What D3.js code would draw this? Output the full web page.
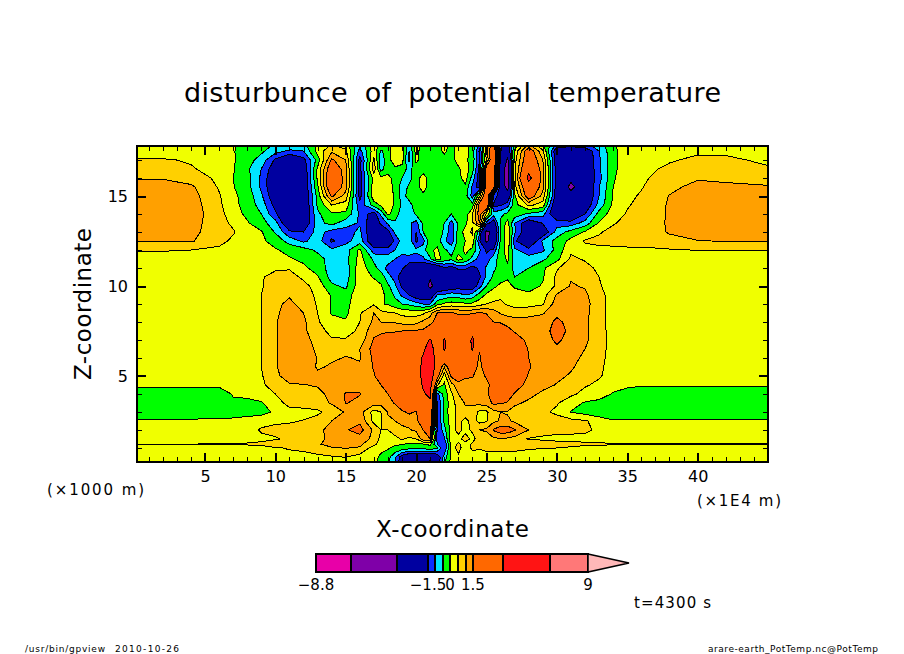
<!DOCTYPE html>
<html>
<head>
<meta charset="utf-8">
<script src="https://cdn.jsdelivr.net/npm/d3@7"></script>
<style>
  body { margin: 0; background: #fff; }
  text { font-family: "DejaVu Sans", sans-serif; fill: #000; }
</style>
</head>
<body>
<svg id="chart" width="904" height="654"></svg>
<script>
// grid coordinates (x in 1E4 m, z in 1000 m), denser around the centre
const xCoords = [0.17,2,4,6,7,8,9,10,11,12,13,14,15,16,
  17,17.5,18,18.5,19,19.5,20,20.5,21,21.5,22,22.5,23,23.5,24,24.5,25,25.5,26,26.5,
  27,28,29,30,31,32,33,34,35,36,38,40,42,45];
const zCoords = [17.78,17.5,17,16.5,16,15.5,15,14.5,14,13.5,13,12.5,12,11.5,11,10.5,10,9.5,9,8.5,8,7.5,7,6.5,6,5.5,5,4.5,4,3.5,3,2.5,2,1.5,1.2,1,0.5,0.22];

// potential temperature disturbance, one row per zCoords entry
const potTemp = [
  [.2,.2,.2,.2,.05,-.2,-.3,-.6,-.7,-.7,.1,.6,.3,-.9, .3,-.2,-.1,.3,.2,-.8,.2,-.2,-.2,-.2,.2,-.2,.3,.2,-.2,-1.2,.8,2,-1.4,-1.8, -.3,1.2,.1,-1.2,-1.4,-1.2,-.8,-.05,.2,.25,.3,.4,.45,.45],
  [.2,.2,.2,.2,.03,-.2,-.4,-.8,-1.1,-1,.2,.9,.6,-1.2, .3,-.6,-.2,.3,.2,-1,.2,-.3,-.2,-.2,.1,-.2,.3,.2,-.2,-1.6,1,2.4,-1.6,-2.2, .1,2,.6,-2.1,-2.2,-2,-1,-.1,.2,.3,.4,.42,.42,.38],
  [.55,.55,.45,.25,.05,-.3,-.7,-1.6,-2.2,-1.7,-.3,1.6,1,-1.7, .6,-.8,-.2,.3,.2,-1.1,.1,-.2,-.2,-.2,-.2,-.2,.2,.1,-.2,-1.5,.5,2.4,-1.7,-3.2, .3,2.2,1,-1.9,-2.4,-2.2,-1.1,-.1,.2,.3,.45,.6,.58,.42],
  [.6,.65,.55,.3,.05,-.4,-1,-1.9,-2.3,-2,.1,2.1,1.2,-1.7, .8,-.7,-.2,-.1,-.2,-.7,-.2,-.2,-.2,-.2,-.2,-.2,-.1,.3,-.3,-1.7,2,2.4,-2,-3.8, .4,2.6,1.2,-1.9,-2.4,-2.2,-1.1,-.1,.25,.35,.6,.75,.72,.55],
  [.95,.95,.75,.4,0,-.3,-1.1,-2.1,-2.4,-2.1,.1,2.4,1.2,-1.7, .2,.1,.15,-.2,-.5,-.7,-.2,.2,-.2,-.2,-.2,-.2,-.15,.2,-.7,-1.8,2.2,2.3,-2,-3.8, .4,3.4,1.2,-1.9,-2.7,-2.2,-1.2,-.05,.25,.42,.72,.95,.9,.78],
  [1.3,1.3,1.1,.45,.03,-.3,-1.1,-2.1,-2.4,-2.1,-.1,2.3,1.2,-1.7, .3,.25,.2,-.1,-.8,-.4,-.2,.2,-.2,-.2,-.2,-.2,-.2,-.1,-1.1,-1.8,2.2,1.8,-2.1,-3.5, .3,2.4,1.2,-1.9,-3.3,-2.2,-1,0,.3,.47,.88,1.15,1.1,1.05],
  [1.4,1.4,1.2,.55,.1,-.2,-.9,-2,-2.4,-2.2,-.3,1.6,.8,-1.7, .4,.3,.3,-.1,-.7,-.3,-.2,-.1,-.2,-.2,-.2,-.2,-.2,-.3,-1.2,.4,2.2,-1,-2,-2.2, -.1,2,.8,-1.9,-2.5,-2.2,-1,.05,.4,.55,1.02,1.25,1.25,1.2],
  [1.4,1.4,1.25,.6,.15,-.2,-.7,-1.7,-2.4,-2.2,-.4,.5,.3,-1.3, -.3,.1,.3,-.1,-.6,-.7,-.2,-.2,-.2,-.2,-.2,-.2,-.2,-.4,-.3,1.8,2.4,-1.6,-1.6,-1.2, -.2,.6,.3,-2.3,-2.4,-2,-.8,.1,.45,.65,1.05,1.3,1.3,1.3],
  [1.4,1.4,1.25,.7,.2,-.1,-.5,-1.4,-2.3,-2.2,-.6,-.1,-.1,-1.1, -1.8,-.9,.1,-.2,-.8,-.9,-.4,-.2,-.2,-.2,-.3,-.5,-.3,-.3,.5,1.8,.4,-.8,-.6,-.4, -.2,-.6,-.8,-2.2,-2.3,-1.5,-.3,.25,.55,.7,1.05,1.3,1.3,1.3],
  [1.3,1.3,1.2,.7,.4,.05,-.3,-.8,-2.2,-2.1,-.7,-.3,-.8,-1.05, -2,-1.4,-.9,-.6,-.7,-.9,-1.2,-.4,-.1,-.2,-.5,-1.2,-.4,-.1,.4,1.5,-1.2,-1.9,-.4,.2, -1,-2,-1.45,-1.2,-1.3,-.8,.05,.45,.65,.75,1.05,1.3,1.3,1.3],
  [1.3,1.3,1.1,.8,.55,.2,.05,-.55,-1.4,-1.5,-.8,-1.2,-1.2,-.9, -2.1,-2,-1.7,-.9,-.7,-.8,-1.5,-.5,-.1,-.15,-.6,-1.3,-.3,.2,.6,-.9,-3.3,-2.6,-.4,.35, -.9,-2.1,-2,-.8,-.3,.05,.45,.65,.75,.8,1.03,1.25,1.25,1.25],
  [1.05,1.05,1.05,.65,.4,.15,.1,-.2,-.7,-1.1,-.75,-1.6,-1.15,-.75, -2.1,-2.2,-2.1,-1.4,-.8,-.7,-1.6,-1.2,-.2,-.2,-.9,-1.3,-.3,0,.3,-1.4,-3.2,-2.3,-.4,.4, -1.4,-2.3,-.9,-.3,.15,.55,.6,.7,.8,.8,.9,.98,1.02,1.01],
  [.55,.55,.5,.4,.25,.15,.1,.05,-.15,-.3,-.6,-.9,-.7,.1, -1.3,-1.3,-1.3,-1,-.7,-.7,-.9,-.7,-.1,.1,-.4,-.7,-.2,.1,-.1,-.9,-1.6,-1.4,-.2,.2, -.9,-1.3,-1.1,-.3,.4,.35,.4,.35,.35,.35,.45,.52,.52,.52],
  [.2,.2,.2,.2,.2,.2,.15,.1,.05,-.1,-.3,-.7,-.7,.2, -.6,-.7,-.7,-1,-1.3,-1.2,-1.2,-1.1,-.6,.2,-.2,-.4,.2,-.1,-.7,-1.2,-1.3,-.7,-.3,.1, -.7,-.8,-.6,-.15,.6,.45,.3,.25,.2,.2,.2,.2,.2,.2],
  [.2,.2,.2,.2,.2,.2,.3,.4,.45,.1,-.2,-.75,-.75,.3, -.35,-.7,-1.2,-1.3,-1.4,-1.9,-2.1,-2.1,-2.3,-2.2,-1.6,-1.7,-1.4,-1.4,-1.7,-1.4,-.9,-.6,-.3,-.15, -.7,-.5,-.1,.45,.75,.65,.4,.25,.2,.2,.2,.2,.2,.2],
  [.2,.2,.2,.2,.2,.25,.45,.7,.7,.4,.05,-.7,-.75,.3, -.05,-.2,-.8,-1.2,-1.9,-2.2,-2.2,-2.5,-2.9,-2.4,-2.2,-2.2,-2,-2.2,-2.2,-1.6,-.9,-.4,-.2,-.1, -.5,-.3,-.05,.6,.95,.85,.5,.25,.2,.2,.2,.2,.2,.2],
  [.2,.2,.2,.2,.2,.3,.45,.75,.9,.65,.3,-.4,-.6,.3, .25,.05,-.4,-.9,-1.6,-2,-2.1,-2.3,-3.3,-2.4,-2.1,-2,-1.8,-1.9,-1.9,-1.2,-.5,-.1,.1,.2, -.1,-.2,.05,.6,1.05,.95,.55,.25,.2,.2,.2,.2,.2,.2],
  [.2,.2,.2,.2,.2,.2,.5,.85,.95,.75,.4,-.05,-.3,.4, .4,.1,-.1,-.6,-1.1,-1.5,-1.9,-2.1,-2.1,-1,-.9,-.7,-.8,-1,-.8,-.3,.1,.25,.4,.45, .3,.1,.3,1.05,1.25,1.1,.65,.3,.2,.2,.2,.2,.2,.2],
  [.2,.2,.2,.2,.2,.25,.5,.9,1.1,.85,.45,-.05,-.2,.45, .45,.05,-.05,-.3,-.5,-.6,-.8,-1,-1,-.2,.1,.2,.2,.1,.1,.3,.5,.6,.6,.45, .35,.35,.45,1.25,1.3,1.2,.65,.3,.2,.2,.2,.2,.2,.2],
  [.2,.2,.2,.2,.2,.25,.5,.9,1.25,1,.5,-.05,-.1,.45, 1,.65,.55,.5,.35,.3,.3,.4,.8,1.5,1.6,1.55,1.4,1.4,1.45,1.55,1.45,1.25,.95,.8, .75,.8,.95,1.4,1.3,1.15,.65,.3,.2,.2,.2,.2,.2,.2],
  [.2,.2,.2,.2,.2,.25,.5,.95,1.3,1.1,.55,.2,.05,.5, 1.1,1,.95,.95,.85,.8,.85,1.1,1.3,1.8,2.1,2.1,2,2,2,2.1,1.9,1.5,1.45,1.35, 1.25,1.25,1.25,1.6,1.35,1.1,.65,.3,.2,.2,.2,.2,.2,.2],
  [.2,.2,.2,.2,.2,.25,.5,.95,1.3,1.1,.7,.35,.3,.6, 1.35,1.4,1.45,1.45,1.5,1.5,1.55,1.6,2,2.2,2.3,2.3,2.3,2.3,2.6,2.3,2.2,2.1,1.9,1.65, 1.45,1.3,1.25,1.75,1.35,1.1,.7,.3,.2,.2,.2,.2,.2,.2],
  [.2,.2,.2,.2,.2,.25,.5,.95,1.3,1.2,.8,.55,.55,.7, 1.55,1.7,1.8,1.9,2,2,2.1,2.6,3.1,2.2,3.1,2.2,2.2,2.3,3.2,2.2,2.2,2.2,2.2,2.2, 1.8,1.35,1.25,1.6,1.3,1.1,.7,.3,.2,.2,.2,.2,.2,.2],
  [.2,.2,.2,.2,.2,.25,.5,.95,1.3,1.25,.9,.8,.9,1, 1.7,2,2.2,2.3,2.3,2.3,2.5,2.8,3.6,2.3,3.1,2.3,2.2,2.4,3.1,1.55,2.2,2.2,2.2,2.2, 2.2,1.45,1.3,1.4,1.3,1,.7,.3,.2,.2,.2,.2,.2,.2],
  [.2,.2,.2,.2,.2,.25,.5,.95,1.3,1.3,.98,.95,1.02,.97, 1.6,2,2.2,2.3,2.3,2.3,2.6,3.1,4,2.3,2.3,2.3,2.3,2.3,2.2,1.4,2.1,2.3,2.3,2.3, 2.2,1.5,1.3,1.35,1.15,.9,.65,.3,.2,.2,.2,.2,.2,.2],
  [.2,.2,.2,.2,.2,.25,.5,.95,1.3,1.3,.95,1.05,1.25,1.05, 1.55,2,2.2,2.3,2.3,2.3,2.6,3.2,4,2.4,1,2.1,2.2,2.2,1.9,1.3,1.9,2.3,2.3,2.3, 2.1,1.55,1.25,1.2,1.05,.85,.6,.3,.2,.2,.2,.2,.2,.2],
  [.2,.2,.2,.2,.2,.25,.45,.9,1.2,1.3,1.1,1.3,1.4,1.4, 1.45,1.8,2.1,2.3,2.3,2.3,2.6,3.2,3.8,1.8,.2,1.6,1.9,1.6,1.55,1.2,1.6,2.2,2.3,2.3, 2,1.45,1.2,1.1,.95,.75,.55,.3,.2,.2,.2,.2,.2,.2],
  [.1,.1,.1,.1,.1,.15,.4,.75,.95,.98,1.05,1.2,1.35,1.4, 1.3,1.5,1.8,2.1,2.3,2.3,2.5,3.1,3.4,.6,-.1,.8,1.3,1.2,1.3,1.1,1.3,1.8,2,2, 1.8,1.3,1.15,.97,.85,.55,.4,.2,.1,.05,.05,.05,.05,.05],
  [-.3,-.3,-.3,-.3,.05,.1,.25,.5,.75,.8,.85,1.15,1.53,1.52, 1.25,1.35,1.5,1.9,2.1,2.2,2.3,2.9,3.2,-1.2,-.3,.4,1,1.15,1.25,1.15,1.4,1.8,1.9,1.8, 1.45,1.15,.9,.8,.6,.35,.25,-.05,-.2,-.3,-.3,-.3,-.3,-.3],
  [-.4,-.4,-.4,-.2,-.1,-.1,-.05,.3,.65,.7,.8,1.05,1.52,1.4, 1.2,1.2,1.3,1.55,2,2.1,2.1,2.6,2.8,-1.6,-.4,.3,.7,1.05,1.1,1.15,1.25,1.6,1.55,1.45, 1.1,.9,.7,.55,.2,-.05,-.15,-.3,-.4,-.4,-.4,-.4,-.4,-.4],
  [-.4,-.4,-.4,-.4,-.4,-.3,-.2,.1,.35,.35,.4,.7,1.05,1.2, .3,.5,1.05,1.2,1.4,1.6,1.45,2.2,2.5,-1.6,-.3,.3,.6,.9,.7,.4,.4,.85,1,.95, .8,.7,.6,.4,-.02,-.2,-.35,-.4,-.4,-.4,-.4,-.4,-.4,-.4],
  [.1,.1,.1,.15,.2,.3,.35,.4,.45,.52,.7,1,1.3,1.4, .35,.45,.9,1,1.1,1.2,1.35,1.9,2.1,-1.6,-.4,.25,.7,.3,.75,.35,.45,.9,1.05,1.1, .9,.75,.7,.7,.65,.55,.3,.05,.1,.1,.1,.1,.1,.1],
  [.15,.15,.2,.25,.3,.3,.55,.65,.65,.7,.85,1.2,1.45,1.7, .9,.5,.5,.75,.9,.95,1.1,1.5,1.8,-1.6,-.7,.25,.7,.3,.6,1,1.1,1.55,1.8,1.8, 1.55,1,.6,.6,.57,.55,.45,.25,.2,.2,.2,.2,.2,.2],
  [.2,.2,.2,.25,.3,.35,.4,.45,.6,.8,.95,1.05,1.35,1.3, .85,.35,.3,.35,.55,.4,.5,1.3,1.5,-1.2,-1.1,.4,.3,.8,.3,.8,.6,.9,.95,.9, .8,.45,.45,.4,.42,.42,.4,.3,.3,.3,.3,.3,.3,.3],
  [.52,.52,.52,.52,.52,.55,.6,.8,.85,.95,.95,1.15,1.25,1.1, .6,.3,.15,.05,.02,-.1,-.15,-.1,.1,-1,-1.5,.2,.6,.2,.6,.5,.7,.8,.75,.7, .75,.75,.7,.65,.6,.55,.55,.53,.52,.52,.52,.52,.52,.52],
  [.25,.25,.25,.25,.25,.25,.3,.45,.55,.6,.75,.95,1.02,.95, .25,.15,.05,-.1,-.2,-.3,-.3,-.3,-.2,-.4,-1.5,.2,.7,.2,.6,.55,.65,.7,.7,.7, .65,.55,.52,.5,.45,.4,.35,.3,.25,.25,.25,.25,.25,.25],
  [.2,.2,.2,.2,.2,.2,.2,.2,.3,.35,.4,.45,.52,.3, .15,-.1,-.3,-.9,-1.8,-2.2,-2.3,-2.3,-2.3,-2,-.8,.1,.4,.2,.3,.2,.25,.25,.25,.25, .25,.25,.25,.25,.25,.2,.2,.2,.2,.2,.2,.2,.2,.2],
  [.2,.2,.2,.2,.2,.2,.2,.2,.25,.3,.3,.3,.3,.2, .2,-.2,-.4,-1,-2,-2.4,-2.6,-2.8,-3.3,-2,-.6,.2,.2,.2,.2,.2,.2,.2,.2,.2, .2,.2,.2,.2,.2,.2,.2,.2,.2,.2,.2,.2,.2,.2]
];

// colour levels of the bar, one colour per band plus the tip above 9
const levels = [-8.8,-6,-3,-1.5,-1,-.5,0,.5,1,1.5,3,6,9];
const bandColors = ["#e800a8","#7f00a8","#0000a0","#0a2eff","#00e6ff","#00ff00","#f0ff00","#ffd000","#ffa000","#ff6800","#ff1414","#ff7878","#ffb8b8"];
const barLabels = [-8.8,-1.5,0,1.5,9];
const xTicks = [5,10,15,20,25,30,35,40];
const zTicks = [5,10,15];

const width = 904;
const height = 654;
const plot = { left: 137, right: 768, top: 146, bottom: 462 };

const svg = d3.select("#chart");

const x = d3.scaleLinear().domain([0.17, 45]).range([plot.left, plot.right]);
const z = d3.scaleLinear().domain([0.22, 17.78]).range([plot.bottom, plot.top]);

// 1. filled contours
// d3.contours works in grid cells, the two scales below bring it back to the real coordinates
const nx = xCoords.length;
const nz = zCoords.length;
const colToX = d3.scaleLinear().domain(d3.range(nx)).range(xCoords).clamp(true);
const rowToZ = d3.scaleLinear().domain(d3.range(nz)).range(zCoords).clamp(true);

const contours = d3.contours()
  .size([nx, nz])
  .thresholds(levels.slice(1, -1))(potTemp.flat());

const path = d3.geoPath(d3.geoTransform({
  point(cx, cy) {
    this.stream.point(x(colToX(cx - 0.5)), z(rowToZ(cy - 0.5)));
  }
}));

const gPlot = svg.append("g");
gPlot.append("rect")
  .attr("x", plot.left).attr("y", plot.top)
  .attr("width", plot.right - plot.left).attr("height", plot.bottom - plot.top)
  .attr("fill", bandColors[0]);

gPlot.selectAll("path")
  .data(contours)
  .join("path")
    .attr("d", path)
    .attr("fill", (d, i) => bandColors[i + 1])
    .attr("stroke", "#000")
    .attr("stroke-width", 1)
    .attr("shape-rendering", "crispEdges");

// 2. axes, ticks point inwards on all four sides
const minorX = d3.range(1, 45);
const minorZ = d3.range(1, 18);

function ticks(axis, pos, values, size) {
  const g = svg.append("g")
    .attr("transform", pos)
    .call(axis.tickValues(values).tickSize(-size).tickPadding(9));
  g.select(".domain").remove();
  g.selectAll("line")
    .attr("stroke", "#000")
    .attr("stroke-width", size > 5 ? 2 : 1)
    .attr("shape-rendering", "crispEdges");
  g.selectAll("text")
    .attr("font-family", "DejaVu Sans")
    .attr("font-size", 16);
  return g;
}

const noLabel = () => "";
ticks(d3.axisBottom(x).tickFormat(noLabel), `translate(0,${plot.bottom})`, minorX, 5);
ticks(d3.axisTop(x).tickFormat(noLabel), `translate(0,${plot.top})`, minorX, 5);
ticks(d3.axisLeft(z).tickFormat(noLabel), `translate(${plot.left},0)`, minorZ, 5);
ticks(d3.axisRight(z).tickFormat(noLabel), `translate(${plot.right},0)`, minorZ, 5);
ticks(d3.axisBottom(x).tickFormat(d3.format("d")), `translate(0,${plot.bottom})`, xTicks, 9);
ticks(d3.axisTop(x).tickFormat(noLabel), `translate(0,${plot.top})`, xTicks, 9);
ticks(d3.axisLeft(z).tickFormat(d3.format("d")), `translate(${plot.left},0)`, zTicks, 9);
ticks(d3.axisRight(z).tickFormat(noLabel), `translate(${plot.right},0)`, zTicks, 9);

svg.append("rect")
  .attr("x", plot.left).attr("y", plot.top)
  .attr("width", plot.right - plot.left).attr("height", plot.bottom - plot.top)
  .attr("fill", "none")
  .attr("stroke", "#000")
  .attr("stroke-width", 2)
  .attr("shape-rendering", "crispEdges");

// 3. colour bar, its spacing is not linear so the scale gets one stop per level
const barStops = [316,351,397,428,435,443,450,458,466,473,503,550,588];
const barTop = 554;
const barBottom = 572;
const barX = d3.scaleLinear().domain(levels).range(barStops);
const gBar = svg.append("g");

gBar.selectAll("rect")
  .data(d3.pairs(levels))
  .join("rect")
    .attr("x", d => barX(d[0]))
    .attr("y", barTop)
    .attr("width", d => barX(d[1]) - barX(d[0]))
    .attr("height", barBottom - barTop)
    .attr("fill", (d, i) => bandColors[i])
    .attr("stroke", "#000")
    .attr("stroke-width", 1.5)
    .attr("shape-rendering", "crispEdges");

gBar.append("polygon")
  .attr("points", [[barX(9), barTop], [629, (barTop + barBottom) / 2], [barX(9), barBottom]].join(" "))
  .attr("fill", bandColors[12])
  .attr("stroke", "#000")
  .attr("stroke-width", 1.5);

gBar.selectAll("text")
  .data(barLabels)
  .join("text")
    .attr("x", d => barX(d))
    .attr("y", 590)
    .attr("text-anchor", "middle")
    .attr("font-size", 15)
    .text(d => String(d).replace("-", "\u2212"));

// 4. texts
function label(str, px, py, size, len, rotate) {
  const t = svg.append("text")
    .attr("x", px).attr("y", py)
    .attr("font-size", size)
    .attr("textLength", len)
    .attr("lengthAdjust", "spacing")
    .text(str);
  if (rotate) t.attr("transform", `rotate(-90 ${px} ${py})`);
  return t;
}

label("disturbunce of potential temperature", 184, 102, 27, 537).attr("word-spacing", 8);
label("X-coordinate", 376, 537, 23, 153);
label("Z-coordinate", 91, 380, 23, 152, true);
label("(\u00d71000 m)", 47, 495, 15, 97);
label("(\u00d71E4 m)", 697, 506, 15, 84);
label("t=4300 s", 634, 608, 15, 77);
label("/usr/bin/gpview", 25, 652, 9, 80);
label("2010-10-26", 115, 652, 9, 64);
label("arare-earth_PotTemp.nc@PotTemp", 708, 652, 9, 170);
</script>
</body>
</html>
